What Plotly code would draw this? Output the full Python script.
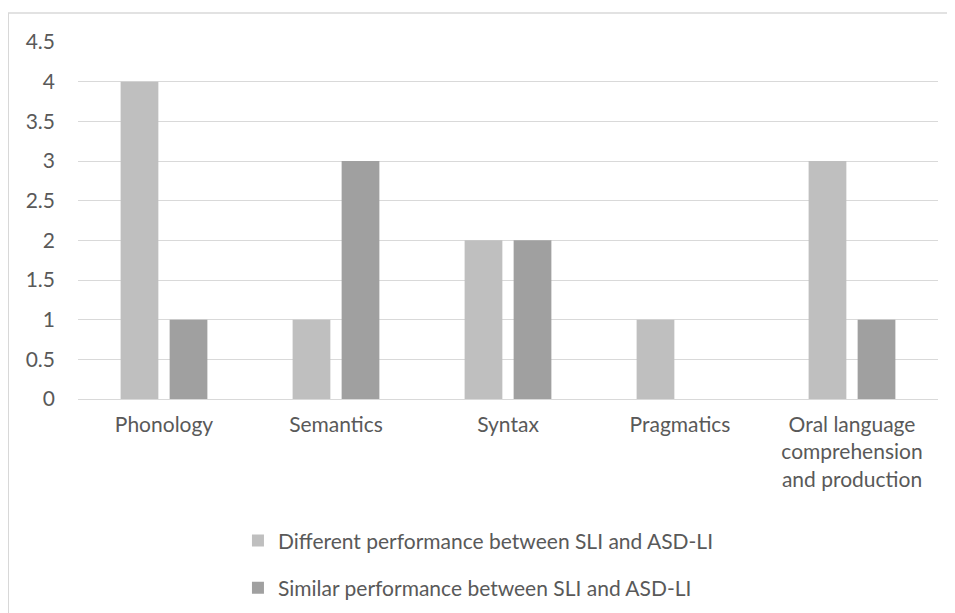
import plotly.graph_objects as go

categories = ["Phonology", "Semantics", "Syntax", "Pragmatics",
              "Oral language<br>comprehension<br>and production"]
different = [4, 1, 2, 1, 3]
similar = [1, 3, 2, 0, 1]
series_names = ["Different performance between SLI and ASD-LI",
                "Similar performance between SLI and ASD-LI"]
tick_vals = [0, 0.5, 1, 1.5, 2, 2.5, 3, 3.5, 4, 4.5]
tick_text = ["0", "0.5", "1", "1.5", "2", "2.5", "3", "3.5", "4", "4.5"]

FONT = "Lato, 'Open Sans', sans-serif"
TXT = "#595959"
FS = 21

fig = go.Figure()
fig.add_bar(x=categories, y=different, name=series_names[0],
            marker=dict(color="#bfbfbf", line=dict(width=0)), legendgroup="a")
fig.add_bar(x=categories, y=similar, name=series_names[1],
            marker=dict(color="#a0a0a0", line=dict(width=0)), legendgroup="b")

fig.update_layout(
    width=955, height=613,
    margin=dict(l=70, r=25, t=34, b=222),
    paper_bgcolor="white", plot_bgcolor="white",
    barmode="group", bargap=0.43, bargroupgap=0.23,
    font=dict(family=FONT, size=FS, color=TXT),
    showlegend=True,
    legend=dict(orientation="v", x=0.186, xanchor="left", y=-0.34, yanchor="top",
                tracegroupgap=17, font=dict(size=FS, color=TXT),
                itemwidth=30, bgcolor="rgba(0,0,0,0)"),
    xaxis=dict(showgrid=False, showline=False, ticks="", tickfont=dict(size=FS, color=TXT),
               ticklabelstandoff=11, fixedrange=True),
    yaxis=dict(range=[0, 4.5], tickvals=tick_vals, ticktext=tick_text,
               showgrid=True, gridcolor="#d9d9d9", gridwidth=1,
               zeroline=True, zerolinecolor="#d9d9d9", zerolinewidth=1,
               showline=False, ticks="", ticklabelstandoff=22,
               tickfont=dict(size=FS, color=TXT)),
    shapes=[
        dict(type="line", xref="paper", yref="paper",
             x0=-0.0815, x1=-0.0815, y0=-0.7, y1=1.081,
             line=dict(color="#d4d4d4", width=2), layer="above"),
        dict(type="line", xref="paper", yref="paper",
             x0=-0.0826, x1=1.05, y0=1.081, y1=1.081,
             line=dict(color="#d9d9d9", width=1.5)),
    ],
)

fig.write_html("out.html")
